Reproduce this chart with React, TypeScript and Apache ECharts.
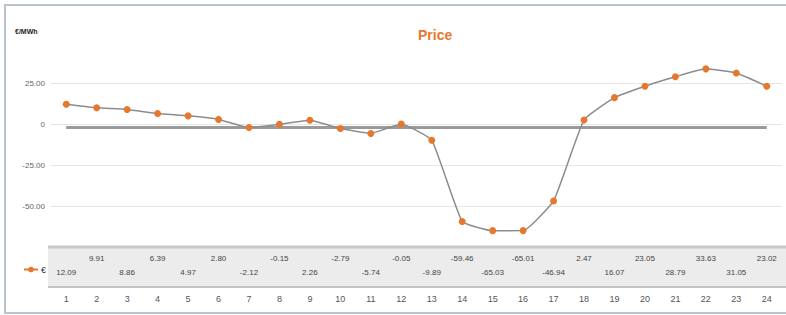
import React, { useEffect, useRef } from "react";
import * as echarts from "echarts";

const hours = ["1","2","3","4","5","6","7","8","9","10","11","12","13","14","15","16","17","18","19","20","21","22","23","24"];
const prices = [12.09, 9.91, 8.86, 6.39, 4.97, 2.80, -2.12, -0.15, 2.26, -2.79, -5.74, -0.05, -9.89, -59.46, -65.03, -65.01, -46.94, 2.47, 16.07, 23.05, 28.79, 33.63, 31.05, 23.02];
const baselineValue = -2;
const yMin = -75;
const yMax = 50;
const yInterval = 25;

const ORANGE = "#e8772e";

export default function App() {
  const ref = useRef<HTMLDivElement>(null);
  useEffect(() => {
    const chart = echarts.init(ref.current!, null, { renderer: "svg" });
    const priceLabels = prices.map((p) => p.toFixed(2));
    const labelStyle = { color: "#444", fontSize: 8, fontFamily: "Liberation Sans, Arial, sans-serif" };
    chart.setOption({
      animation: false,
      backgroundColor: "#ffffff",
      title: {
        text: "Price",
        left: 413,
        top: 23,
        textStyle: { color: ORANGE, fontSize: 14, fontWeight: "bold", fontFamily: "Liberation Sans, Arial, sans-serif" },
      },
      graphic: [
        {
          type: "rect",
          shape: { x: 5, y: 5, width: 800, height: 308 },
          style: { fill: "none", stroke: "#b7c4d1", lineWidth: 2 },
          z: 0,
        },
        {
          type: "rect",
          shape: { x: 48, y: 248, width: 740, height: 39 },
          style: { fill: "#ececec" },
          z: 0,
        },
        {
          type: "line",
          shape: { x1: 48, y1: 287, x2: 786, y2: 287 },
          style: { stroke: "#c4c4c4", lineWidth: 2 },
          z: 1,
        },
        {
          type: "line",
          shape: { x1: 48, y1: 247, x2: 786, y2: 247 },
          style: { stroke: "#c8c8c8", lineWidth: 3 },
          z: 1,
        },
        {
          type: "text",
          left: 15,
          top: 28,
          style: { text: "€/MWh", fill: "#222", fontSize: 7, fontWeight: "bold", fontFamily: "Liberation Sans, Arial, sans-serif" },
        },
      ],
      legend: {
        left: 18,
        top: 260,
        itemWidth: 14,
        itemHeight: 7,
        itemGap: 4,
        data: [{ name: "€", itemStyle: { color: ORANGE }, lineStyle: { color: ORANGE } }],
        textStyle: { color: "#333", fontSize: 9, padding: [0, 0, 0, -2] },
      },
      grid: { left: 51, right: 4, top: 42, bottom: 68 },
      xAxis: [
        {
          type: "category",
          data: hours,
          boundaryGap: true,
          axisLine: { show: false },
          axisTick: { show: false },
          axisLabel: { margin: 47, color: "#555", fontSize: 9, fontFamily: "Liberation Sans, Arial, sans-serif" },
        },
        {
          type: "category",
          data: priceLabels,
          position: "bottom",
          boundaryGap: true,
          axisLine: { show: false },
          axisTick: { show: false },
          axisLabel: { ...labelStyle, margin: 7, interval: (i: number) => i % 2 === 1 },
        },
        {
          type: "category",
          data: priceLabels,
          position: "bottom",
          boundaryGap: true,
          axisLine: { show: false },
          axisTick: { show: false },
          axisLabel: { ...labelStyle, margin: 21, interval: (i: number) => i % 2 === 0 },
        },
      ],
      yAxis: {
        type: "value",
        min: yMin,
        max: yMax,
        interval: yInterval,
        axisLine: { show: false },
        axisTick: { show: false },
        axisLabel: {
          margin: 6,
          color: "#666",
          fontSize: 8,
          fontFamily: "Liberation Sans, Arial, sans-serif",
          formatter: (v: number) => (v === yMin || v === yMax ? "" : v === 0 ? "0" : v.toFixed(2)),
        },
        splitLine: {
          lineStyle: {
            color: ["rgba(0,0,0,0)", "#e6e6e6", "#e6e6e6", "#e6e6e6", "#e6e6e6", "rgba(0,0,0,0)"],
            width: 1,
          },
        },
      },
      series: [
        {
          name: "€",
          type: "line",
          data: prices,
          smooth: 0.12,
          symbol: "circle",
          symbolSize: 7,
          itemStyle: { color: ORANGE },
          lineStyle: { color: "#8c8c8c", width: 1.5 },
          z: 5,
          markLine: {
            silent: true,
            symbol: "none",
            label: { show: false },
            lineStyle: { color: "#9a9a9a", width: 3, type: "solid" },
            data: [[{ coord: [hours[0], baselineValue] }, { coord: [hours[hours.length - 1], baselineValue] }]],
            z: 2,
          },
        },
      ],
    });
    return () => chart.dispose();
  }, []);
  return <div ref={ref} style={{ position: "fixed", left: 0, top: 0, width: 786, height: 315 }} />;
}
